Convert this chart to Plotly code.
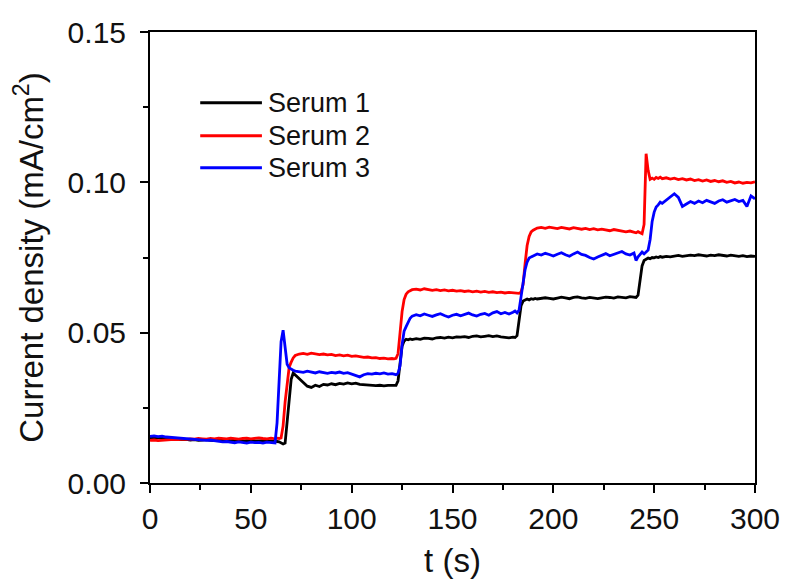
import plotly.graph_objects as go

# time points (s)
t = [0, 2, 4, 6, 8, 10, 12, 14, 16, 18, 20, 22, 24, 26, 28, 30, 32, 34, 36, 38, 40,
     42, 44, 46, 48, 50, 52, 54, 56, 58, 60,
     61, 62, 63, 64, 65, 66, 67, 68, 69, 70, 71, 72,
     74, 76, 78, 80, 82, 84, 86, 88, 90, 92, 94, 96, 98, 100, 102, 104, 106, 108, 110,
     112, 114, 116, 118, 120,
     121, 122, 123, 124, 125, 126, 127, 128, 129, 130,
     132, 134, 136, 138, 140, 142, 144, 146, 148, 150, 152, 154, 156, 158, 160, 162,
     164, 166, 168, 170, 172, 174, 176, 178, 180,
     181, 182, 183, 184, 185, 186, 187, 188, 189, 190, 191, 192,
     194, 196, 198, 200, 202, 204, 206, 208, 210, 212, 214, 216, 218, 220, 222, 224,
     226, 228, 230, 232, 234, 236, 238, 240,
     241, 242, 243, 244, 245, 246, 247, 248, 249, 250, 251, 252, 253, 254,
     256, 258, 260, 262, 264, 266, 268, 270, 272, 274, 276, 278, 280, 282, 284, 286,
     288, 290, 292, 294, 296, 298, 300]

serum1 = [0.0150, 0.0149, 0.0151, 0.0148, 0.0147, 0.0146, 0.0145, 0.0146, 0.0144, 0.0145,
          0.0143, 0.0144, 0.0142, 0.0143, 0.0144, 0.0142, 0.0141, 0.0143, 0.0142, 0.0140,
          0.0141, 0.0142, 0.0140, 0.0139, 0.0141, 0.0140, 0.0139, 0.0140, 0.0141, 0.0139, 0.0140,
          0.0140, 0.0139, 0.0138, 0.0137, 0.0133, 0.0130, 0.0133, 0.0200, 0.0290, 0.0345, 0.0366, 0.0360,
          0.0345, 0.0333, 0.0322, 0.0318, 0.0325, 0.0321, 0.0328, 0.0326, 0.0330, 0.0327,
          0.0331, 0.0329, 0.0333, 0.0330, 0.0332, 0.0328, 0.0327, 0.0325, 0.0326, 0.0324,
          0.0325, 0.0323, 0.0325, 0.0324,
          0.0323, 0.0325, 0.0340, 0.0410, 0.0455, 0.0472, 0.0478, 0.0476, 0.0479, 0.0477,
          0.0480, 0.0478, 0.0482, 0.0481, 0.0479, 0.0483, 0.0484, 0.0482, 0.0485, 0.0483,
          0.0486, 0.0485, 0.0487, 0.0484, 0.0488, 0.0489, 0.0486, 0.0488, 0.0490, 0.0487,
          0.0489, 0.0486, 0.0484, 0.0483, 0.0485,
          0.0484, 0.0490, 0.0540, 0.0590, 0.0605, 0.0610, 0.0612, 0.0609, 0.0613, 0.0611, 0.0614, 0.0612,
          0.0613, 0.0616, 0.0614, 0.0612, 0.0615, 0.0618, 0.0616, 0.0613, 0.0617, 0.0619,
          0.0616, 0.0614, 0.0617, 0.0615, 0.0613, 0.0616, 0.0618, 0.0617, 0.0615, 0.0619,
          0.0617, 0.0616, 0.0620, 0.0618,
          0.0617, 0.0625, 0.0680, 0.0722, 0.0740, 0.0745, 0.0748, 0.0746, 0.0750, 0.0749,
          0.0752, 0.0750, 0.0753, 0.0751,
          0.0754, 0.0752, 0.0755, 0.0757, 0.0754, 0.0756, 0.0758, 0.0756, 0.0759, 0.0757,
          0.0755, 0.0758, 0.0756, 0.0759, 0.0757, 0.0755, 0.0758, 0.0756, 0.0754, 0.0756,
          0.0753, 0.0755, 0.0754]

serum2 = [0.0142, 0.0143, 0.0141, 0.0142, 0.0144, 0.0143, 0.0145, 0.0144, 0.0146, 0.0145,
          0.0147, 0.0146, 0.0148, 0.0147, 0.0146, 0.0148, 0.0147, 0.0149, 0.0148, 0.0147,
          0.0149, 0.0148, 0.0146, 0.0148, 0.0149, 0.0147, 0.0148, 0.0150, 0.0148, 0.0147, 0.0149,
          0.0148, 0.0147, 0.0149, 0.0148, 0.0150, 0.0190, 0.0270, 0.0340, 0.0385, 0.0402, 0.0416, 0.0424,
          0.0429, 0.0431, 0.0428, 0.0432, 0.0430, 0.0427, 0.0429, 0.0426, 0.0428, 0.0424,
          0.0426, 0.0423, 0.0425, 0.0421, 0.0423, 0.0420, 0.0418, 0.0419, 0.0416, 0.0417,
          0.0414, 0.0415, 0.0413, 0.0414,
          0.0413, 0.0415, 0.0430, 0.0500, 0.0570, 0.0610, 0.0628, 0.0636, 0.0641, 0.0643,
          0.0645, 0.0642, 0.0646, 0.0644, 0.0641, 0.0643, 0.0640, 0.0642, 0.0639, 0.0641,
          0.0638, 0.0640, 0.0637, 0.0639, 0.0636, 0.0638, 0.0635, 0.0637, 0.0634, 0.0636,
          0.0633, 0.0635, 0.0632, 0.0634, 0.0633,
          0.0632, 0.0634, 0.0631, 0.0636, 0.0660, 0.0730, 0.0790, 0.0820, 0.0835, 0.0841, 0.0845, 0.0848,
          0.0850, 0.0847, 0.0851, 0.0849, 0.0846, 0.0850, 0.0848, 0.0845, 0.0849, 0.0846,
          0.0844, 0.0847, 0.0843, 0.0846, 0.0842, 0.0844, 0.0841, 0.0839, 0.0843, 0.0840,
          0.0837, 0.0835, 0.0838, 0.0834,
          0.0832, 0.0836, 0.0833, 0.0829, 0.0860, 0.1095, 0.1040, 0.1010, 0.1014, 0.1010,
          0.1016, 0.1013, 0.1017, 0.1012,
          0.1015, 0.1011, 0.1014, 0.1009, 0.1012, 0.1008, 0.1011, 0.1006, 0.1009, 0.1004,
          0.1008, 0.1003, 0.1006, 0.1002, 0.1005, 0.1000, 0.1003, 0.0998, 0.1001, 0.0997,
          0.1000, 0.0998, 0.1002]

serum3 = [0.0155, 0.0157, 0.0154, 0.0156, 0.0153, 0.0152, 0.0150, 0.0149, 0.0147, 0.0148,
          0.0146, 0.0145, 0.0143, 0.0144, 0.0142, 0.0143, 0.0141, 0.0139, 0.0137, 0.0138,
          0.0136, 0.0134, 0.0137, 0.0135, 0.0133, 0.0136, 0.0134, 0.0135, 0.0133, 0.0136, 0.0134,
          0.0135, 0.0133, 0.0200, 0.0350, 0.0470, 0.0508, 0.0440, 0.0395, 0.0383, 0.0378, 0.0375, 0.0372,
          0.0370, 0.0368, 0.0372, 0.0369, 0.0366, 0.0370, 0.0367, 0.0365, 0.0368, 0.0366,
          0.0369, 0.0365, 0.0367, 0.0363, 0.0358, 0.0353, 0.0360, 0.0364, 0.0362, 0.0365,
          0.0363, 0.0366, 0.0362, 0.0364,
          0.0362, 0.0360, 0.0365, 0.0390, 0.0460, 0.0505, 0.0520, 0.0535, 0.0548, 0.0555,
          0.0560, 0.0556, 0.0562, 0.0558, 0.0554, 0.0559, 0.0563, 0.0557, 0.0552, 0.0558,
          0.0561, 0.0556, 0.0560, 0.0565, 0.0559, 0.0555, 0.0561, 0.0564, 0.0558, 0.0566,
          0.0570, 0.0563, 0.0567, 0.0562, 0.0568,
          0.0572, 0.0566, 0.0575, 0.0620, 0.0670, 0.0710, 0.0735, 0.0748, 0.0752, 0.0755, 0.0758, 0.0762,
          0.0758, 0.0764, 0.0760, 0.0755, 0.0761, 0.0766, 0.0759, 0.0754, 0.0762, 0.0768,
          0.0760, 0.0757, 0.0750, 0.0745, 0.0752, 0.0758, 0.0763, 0.0756, 0.0760, 0.0766,
          0.0770, 0.0762, 0.0758, 0.0765,
          0.0740, 0.0752, 0.0760, 0.0768, 0.0762, 0.0770, 0.0775, 0.0810, 0.0870, 0.0901,
          0.0918, 0.0925, 0.0934, 0.0930,
          0.0940, 0.0952, 0.0962, 0.0950, 0.0920, 0.0928, 0.0936, 0.0930, 0.0938, 0.0932,
          0.0940, 0.0935, 0.0930, 0.0938, 0.0942, 0.0934, 0.0938, 0.0943, 0.0936, 0.0940,
          0.0920, 0.0955, 0.0945]

series_names = ["Serum 1", "Serum 2", "Serum 3"]
series_values = [serum1, serum2, serum3]
series_colors = ["#000000", "#ff0000", "#0000ff"]

x_ticks = [0, 50, 100, 150, 200, 250, 300]
y_ticks = [0.00, 0.05, 0.10, 0.15]

FONT = "Arial, 'Liberation Sans', sans-serif"

fig = go.Figure()
for name, vals, col in zip(series_names, series_values, series_colors):
    fig.add_trace(go.Scatter(x=t, y=vals, mode="lines", name=name,
                             line=dict(color=col, width=2.8), showlegend=False))

# custom legend (long line samples like the original)
leg_y = [0.843, 0.770, 0.699]
for name, col, ly in zip(series_names, series_colors, leg_y):
    fig.add_shape(type="line", xref="paper", yref="paper",
                  x0=0.083, x1=0.185, y0=ly, y1=ly,
                  line=dict(color=col, width=3))
    fig.add_annotation(xref="paper", yref="paper", x=0.191, y=ly, text=name,
                       showarrow=False, xanchor="left", yanchor="middle",
                       font=dict(family=FONT, size=27, color="#111111"))

axis_common = dict(showgrid=False, zeroline=False, showline=True, linecolor="black",
                   linewidth=2, mirror=True, ticks="outside", ticklen=8, tickwidth=2,
                   tickcolor="black", tickfont=dict(family=FONT, size=30, color="#111111"))

fig.update_xaxes(range=[0, 300], tickvals=x_ticks,
                 ticktext=[str(v) for v in x_ticks],
                 minor=dict(dtick=25, tick0=0, ticks="outside", ticklen=5, tickwidth=2, tickcolor="black"),
                 title=dict(text="t (s)", font=dict(family=FONT, size=33, color="#111111"), standoff=18),
                 **axis_common)
fig.update_yaxes(range=[0, 0.15], tickvals=y_ticks,
                 ticktext=[f"{v:.2f}" for v in y_ticks],
                 ticklabelstandoff=8,
                 minor=dict(dtick=0.025, tick0=0, ticks="outside", ticklen=5, tickwidth=2, tickcolor="black"),
                 title=dict(text="Current density (mA/cm<sup>2</sup>)",
                            font=dict(family=FONT, size=33, color="#111111"), standoff=28),
                 **axis_common)

# page body has an 8px margin, so the figure is 781x571 placed at (8, 8)
fig.update_layout(width=781, height=571, margin=dict(l=142, r=34, t=24, b=96, autoexpand=False),
                  paper_bgcolor="white", plot_bgcolor="white")

fig.write_html("out.html")
